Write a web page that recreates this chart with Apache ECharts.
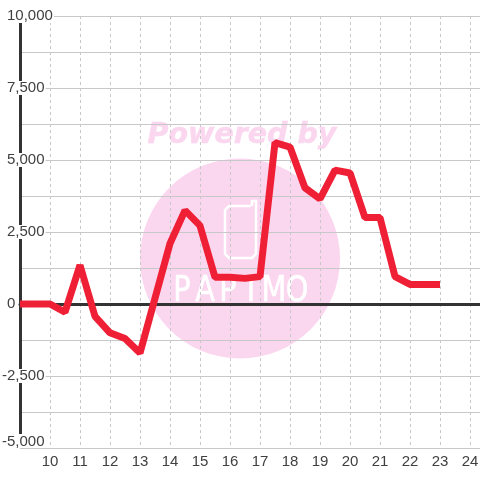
<!DOCTYPE html>
<html><head><meta charset="utf-8">
<style>html,body{margin:0;padding:0;background:#fff}#c{width:480px;height:480px}</style>
<script src="https://cdn.jsdelivr.net/npm/echarts@6/dist/echarts.min.js"></script>
</head><body><div id="c"></div>
<script>
var hours=[9,9.5,10,10.5,11,11.5,12,12.5,13,13.5,14,14.5,15,15.5,16,16.5,17,17.5,18,18.5,19,19.5,20,20.5,21,21.5,22,22.5,23];
var values=[0,0,0,-280,1350,-430,-1000,-1200,-1700,200,2100,3250,2720,930,930,890,950,5600,5450,4030,3650,4650,4550,3000,3000,950,680,680,680];
var xTickLabels=[10,11,12,13,14,15,16,17,18,19,20,21,22,23,24];
var brandLetters=['P','A','P','I','M','O'];
var C='#404040', PINK='#fbd6ef';
var chart=echarts.init(document.getElementById('c'),null,{renderer:'canvas'});
function fmt(v){return echarts.format.addCommas(v);}
var yBase={type:'value',min:-5000,max:10000,interval:1250,position:'left'};
var label={show:true,inside:false,align:'left',color:C,fontSize:15,lineHeight:12,fontFamily:'Liberation Sans',
  backgroundColor:'#fff',padding:[2,1,0,1],verticalAlignMinLabel:'bottom',showMinLabel:true,showMaxLabel:true,hideOverlap:false};
var g=[
 {type:'circle',z:-10,silent:true,shape:{cx:240,cy:258.5,r:100},style:{fill:PINK}},
 {type:'text',z:-10,silent:true,x:242,y:136,style:{text:'Powered by',fill:PINK,stroke:PINK,lineWidth:0.5,align:'center',verticalAlign:'middle',font:'italic bold 28.5px "DejaVu Sans"'}},
 {type:'polyline',z:-9,silent:true,shape:{points:[[251,206],[229,206],[225,210],[225,254],[229,258],[252,258],[256,254],[256,201],[252,201],[252,206]]},style:{fill:null,stroke:'#fff',lineWidth:2.5}}
];
brandLetters.forEach(function(l,i){
 g.push({type:'text',z:-9,silent:true,x:182+i*23,y:292,scaleX:0.8,style:{text:l,fill:'#fff',stroke:'#fff',lineWidth:0.6,align:'center',verticalAlign:'middle',font:'36px "DejaVu Sans"'}});
});
chart.setOption({
 animation:false,backgroundColor:'#fff',
 graphic:g,
 grid:{left:20,top:16,width:480,height:432,containLabel:false,outerBoundsMode:'none'},
 xAxis:[
  {type:'value',min:9,max:25,interval:1,position:'bottom',axisLine:{show:false,onZero:false},axisTick:{show:false},
   axisLabel:{show:true,color:C,fontSize:15,fontFamily:'Liberation Sans',margin:6,showMinLabel:true,showMaxLabel:true,hideOverlap:false,
     formatter:function(v){return xTickLabels.indexOf(v)>=0?String(v):'';}},
   splitLine:{show:true,lineStyle:{color:'#c8c8c8',width:1,type:[3,3]}}},
  {type:'value',min:9,max:25,interval:1,axisLine:{show:true,onZero:true,lineStyle:{color:'#333',width:3}},axisTick:{show:false},axisLabel:{show:false},splitLine:{show:false}}
 ],
 yAxis:[
  Object.assign({},yBase,{axisLine:{show:true,onZero:false,lineStyle:{color:'#333',width:3,cap:'butt'}},axisTick:{show:false},
   splitLine:{show:true,lineStyle:{color:'#c8c8c8',width:1}},
   axisLabel:Object.assign({},label,{margin:14,formatter:function(v){return (v>=0&&v%2500===0)?fmt(v):'';}})}),
  Object.assign({},yBase,{axisLine:{show:false,onZero:false},axisTick:{show:false},splitLine:{show:false},
   axisLabel:Object.assign({},label,{margin:19,formatter:function(v){return (v<0&&v%2500===0)?fmt(v):'';}})})
 ],
 series:[{type:'line',xAxisIndex:0,yAxisIndex:0,z:5,symbol:'none',smooth:false,clip:false,
  data:hours.map(function(h,i){return [h,values[i]];}),
  lineStyle:{color:'#ef2036',width:7,join:'bevel',cap:'butt'}}]
});
</script></body></html>
